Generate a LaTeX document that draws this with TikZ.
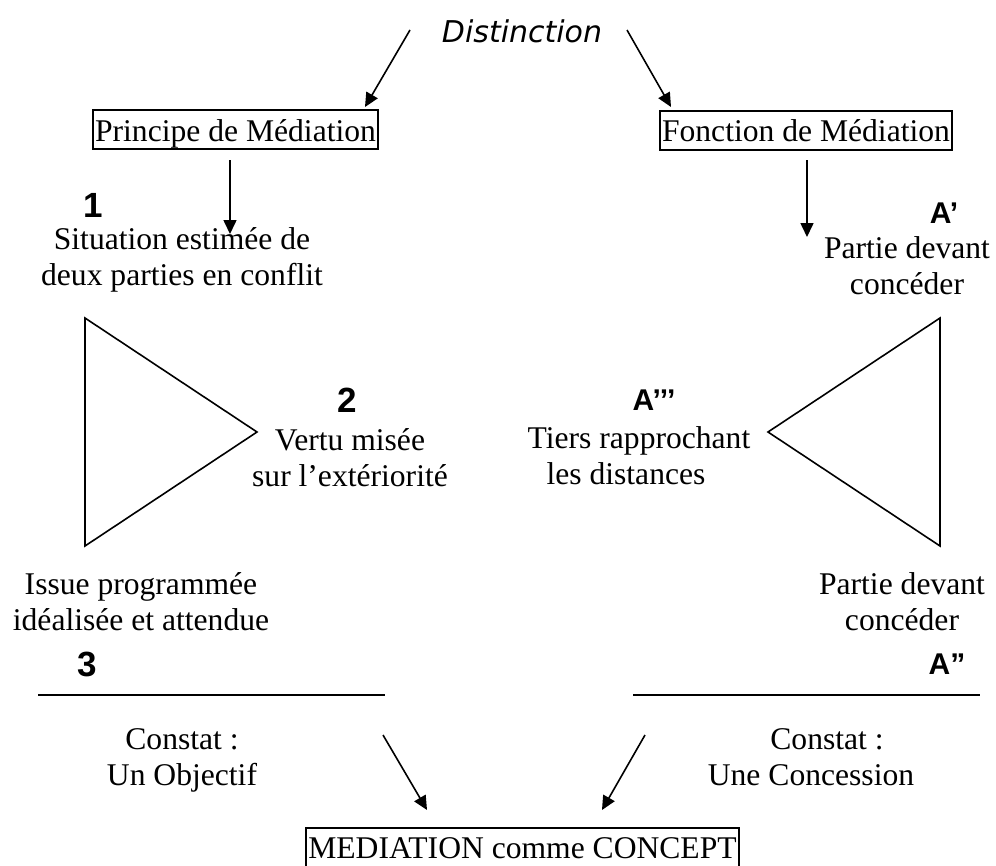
\documentclass[tikz,border=0pt]{standalone}
\usepackage{fontspec}
\setmainfont{Liberation Serif}
\newfontfamily\arialfont{Liberation Sans}
\newfontfamily\comicfont{DejaVu Sans}
\usetikzlibrary{arrows.meta}

\begin{document}
\begin{tikzpicture}[x=1pt,y=-1pt,line width=1.6pt,
    txt/.style={font=\fontsize{31.6}{36}\selectfont,align=center,inner sep=0pt},
    num/.style={font=\arialfont\bfseries\fontsize{35}{38}\selectfont,inner sep=0pt},
    lbl/.style={font=\arialfont\bfseries\fontsize{30}{34}\selectfont,inner sep=0pt},
    cadre/.style={txt,draw,line width=2pt,inner xsep=2pt,inner ysep=4pt,text height=27pt,text depth=4pt},
    fl/.style={-{Triangle[length=14pt,width=13pt]}}]
    \useasboundingbox (0,0) rectangle (996,865);
    % titre et les deux cadres
    \node[font=\comicfont\itshape\fontsize{30}{34}\selectfont,inner sep=0pt] (dist) at (522,31) {Distinction};
    \node[cadre] (pdm) at (235.5,129.5) {Principe de Médiation};
    \node[cadre] (fdm) at (806,130) {Fonction de Médiation};
    \node[cadre] (mcc) at (522.5,847) {MEDIATION comme CONCEPT};
    % colonne gauche
    \node[num] (n1) at (93,205) {1};
    \node[txt] (sit) at (182,260) {Situation estimée de\\deux parties en conflit};
    \node[num] (n2) at (347,400) {2};
    \node[txt] (vert) at (350,458) {Vertu misée\\sur l’extériorité};
    \node[txt] (iss) at (141,602) {Issue programmée\\idéalisée et attendue};
    \node[num] (n3) at (87,664) {3};
    \node[txt] (obj) at (182,760) {Constat :\\Un Objectif};
    % colonne droite
    \node[lbl] (a1) at (944,213) {A’};
    \node[txt] (pd1) at (907,266) {Partie devant\\concéder};
    \node[lbl] (a3) at (654,400) {A’’’};
    \node[txt] (tie) at (639,456) {Tiers rapprochant\\les distances\hspace*{26pt}};
    \node[txt] (pd2) at (902,602) {Partie devant\\concéder};
    \node[lbl] (a2) at (947,664) {A”};
    \node[txt] (con) at (811,757) {\hspace*{32pt}Constat :\\Une Concession};
    % triangles et traits
    \draw (85,318) -- (257,432) -- (85,546) -- cycle;
    \draw (940,318) -- (768,432) -- (940,546) -- cycle;
    \draw (38,695) -- (385,695);
    \draw (633,695) -- (980,695);
    % fleches
    \coordinate (d1) at (410,30);  \coordinate (d2) at (365,107);
    \coordinate (d3) at (627,30);  \coordinate (d4) at (671,107);
    \coordinate (p1) at (230,160); \coordinate (p2) at (230,234);
    \coordinate (f1) at (807,160); \coordinate (f2) at (807,237);
    \coordinate (o1) at (383,735); \coordinate (o2) at (427,810);
    \coordinate (c1) at (645,735); \coordinate (c2) at (602,810);
    \draw[fl] (d1) -- (d2);
    \draw[fl] (d3) -- (d4);
    \draw[fl] (p1) -- (p2);
    \draw[fl] (f1) -- (f2);
    \draw[fl] (o1) -- (o2);
    \draw[fl] (c1) -- (c2);
\end{tikzpicture}
\end{document}
